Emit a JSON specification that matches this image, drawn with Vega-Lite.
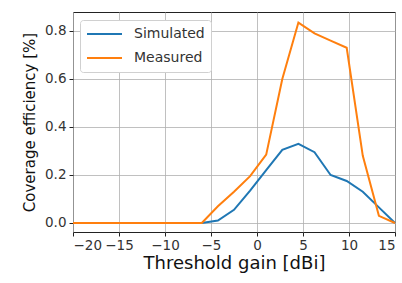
{
  "$schema": "https://vega.github.io/schema/vega-lite/v6.json",
  "width": 322,
  "height": 220,
  "autosize": {"type": "none"},
  "padding": {"left": 73, "top": 12, "right": 7, "bottom": 51},
  "config": {
    "font": "DejaVu Sans",
    "view": {"stroke": "#222222", "strokeWidth": 1},
    "axis": {
      "gridColor": "#b0b0b0",
      "gridWidth": 0.8,
      "domain": false,
      "tickColor": "#222222",
      "tickSize": 4,
      "labelFontSize": 13.5,
      "labelOverlap": false,
      "labelColor": "#333333",
      "titleColor": "#111111",
      "titleFontWeight": "normal"
    }
  },
  "data": {
    "values": [
      {"x": -20, "y": 0, "s": "Simulated"},
      {"x": -18.25, "y": 0, "s": "Simulated"},
      {"x": -16.5, "y": 0, "s": "Simulated"},
      {"x": -14.75, "y": 0, "s": "Simulated"},
      {"x": -13, "y": 0, "s": "Simulated"},
      {"x": -11.25, "y": 0, "s": "Simulated"},
      {"x": -9.5, "y": 0, "s": "Simulated"},
      {"x": -7.75, "y": 0, "s": "Simulated"},
      {"x": -6, "y": 0, "s": "Simulated"},
      {"x": -4.25, "y": 0.01, "s": "Simulated"},
      {"x": -2.5, "y": 0.055, "s": "Simulated"},
      {"x": -0.75, "y": 0.135, "s": "Simulated"},
      {"x": 1, "y": 0.22, "s": "Simulated"},
      {"x": 2.75, "y": 0.305, "s": "Simulated"},
      {"x": 4.5, "y": 0.33, "s": "Simulated"},
      {"x": 6.25, "y": 0.295, "s": "Simulated"},
      {"x": 8, "y": 0.2, "s": "Simulated"},
      {"x": 9.75, "y": 0.175, "s": "Simulated"},
      {"x": 11.5, "y": 0.13, "s": "Simulated"},
      {"x": 13.25, "y": 0.065, "s": "Simulated"},
      {"x": 15, "y": 0.0, "s": "Simulated"},
      {"x": -20, "y": 0, "s": "Measured"},
      {"x": -18.25, "y": 0, "s": "Measured"},
      {"x": -16.5, "y": 0, "s": "Measured"},
      {"x": -14.75, "y": 0, "s": "Measured"},
      {"x": -13, "y": 0, "s": "Measured"},
      {"x": -11.25, "y": 0, "s": "Measured"},
      {"x": -9.5, "y": 0, "s": "Measured"},
      {"x": -7.75, "y": 0, "s": "Measured"},
      {"x": -6, "y": 0, "s": "Measured"},
      {"x": -4.25, "y": 0.07, "s": "Measured"},
      {"x": -2.5, "y": 0.13, "s": "Measured"},
      {"x": -0.75, "y": 0.195, "s": "Measured"},
      {"x": 1, "y": 0.285, "s": "Measured"},
      {"x": 2.75, "y": 0.6, "s": "Measured"},
      {"x": 4.5, "y": 0.835, "s": "Measured"},
      {"x": 6.25, "y": 0.79, "s": "Measured"},
      {"x": 8, "y": 0.76, "s": "Measured"},
      {"x": 9.75, "y": 0.73, "s": "Measured"},
      {"x": 11.5, "y": 0.28, "s": "Measured"},
      {"x": 13.25, "y": 0.03, "s": "Measured"},
      {"x": 15, "y": 0.0, "s": "Measured"}
    ]
  },
  "mark": {"type": "line", "strokeWidth": 2},
  "encoding": {
    "x": {
      "field": "x",
      "type": "quantitative",
      "scale": {"domain": [-20, 15], "nice": false, "zero": false},
      "axis": {"values": [-20, -15, -10, -5, 0, 5, 10, 15], "title": "Threshold gain [dBi]", "titleFontSize": 18, "titlePadding": 3, "labelPadding": 2}
    },
    "y": {
      "field": "y",
      "type": "quantitative",
      "scale": {"domain": [-0.0375, 0.879], "nice": false, "zero": false},
      "axis": {"values": [0, 0.2, 0.4, 0.6, 0.8], "format": ".1f", "title": "Coverage efficiency [%]", "titleFontSize": 15, "titlePadding": 7, "labelPadding": 3}
    },
    "color": {
      "field": "s",
      "type": "nominal",
      "scale": {"domain": ["Simulated", "Measured"], "range": ["#1f77b4", "#ff7f0e"]},
      "legend": {
        "title": null,
        "orient": "none",
        "legendX": 7,
        "legendY": 8,
        "symbolType": "stroke",
        "symbolSize": 1225,
        "symbolStrokeWidth": 2,
        "clipHeight": 16,
        "labelFontSize": 14,
        "labelColor": "#333333",
        "rowPadding": 8,
        "labelOffset": 11,
        "padding": 6,
        "strokeColor": "#d0d0d0",
        "fillColor": "#ffffff",
        "cornerRadius": 3
      }
    },
    "order": {"field": "x", "type": "quantitative"}
  }
}
